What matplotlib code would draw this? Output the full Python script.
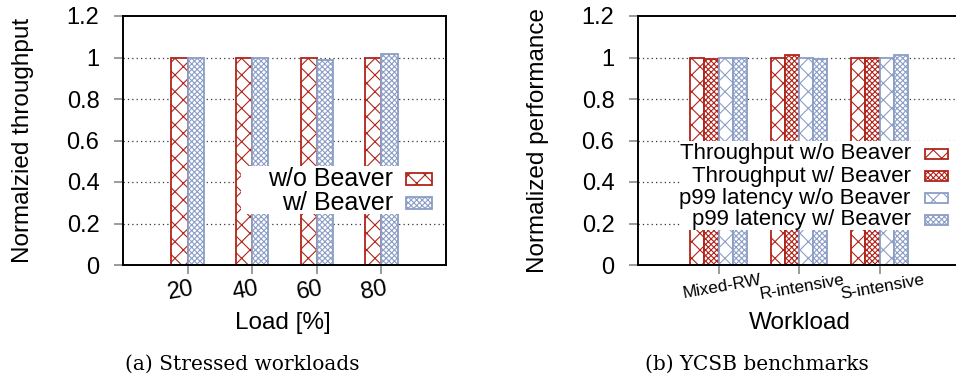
import matplotlib
matplotlib.use("Agg")
import matplotlib.pyplot as plt
import matplotlib.transforms as mtransforms
from matplotlib.patches import Rectangle
import numpy as np

# ---- data -------------------------------------------------------------
loads = ["20", "40", "60", "80"]
tput_wo = [1.0, 1.0, 1.0, 1.0]
tput_w = [1.0, 1.0, 0.986, 1.015]

workloads = ["Mixed-RW", "R-intensive", "S-intensive"]
ycsb_tput_wo = [1.0, 1.0, 1.0]
ycsb_tput_w = [0.991, 1.012, 0.998]
ycsb_p99_wo = [1.0, 1.0, 1.0]
ycsb_p99_w = [1.0, 0.995, 1.012]

yticks = [0, 0.2, 0.4, 0.6, 0.8, 1.0, 1.2]
ytick_labels = ["0", "0.2", "0.4", "0.6", "0.8", "1", "1.2"]

# ---- style ------------------------------------------------------------
RED = "#B0241A"
BLUE = "#8C9EC6"
SPARSE = "xx"
DENSE = "xxxxxx"
SANS = ["Liberation Sans", "DejaVu Sans"]
plt.rcParams["font.family"] = SANS
plt.rcParams["hatch.linewidth"] = 0.8
FS_TICK = 17
FS_LABEL = 17.5

W, H = 956, 381
fig = plt.figure(figsize=(W / 100, H / 100), dpi=100)


def px_axes(x0, x1, ytop, ybot):
    return fig.add_axes([x0 / W, (H - ybot) / H, (x1 - x0) / W, (ybot - ytop) / H])


def style_axes(ax):
    ax.set_ylim(0, 1.2)
    ax.set_yticks(yticks)
    ax.set_yticklabels(ytick_labels, fontsize=FS_TICK)
    for s in ax.spines.values():
        s.set_linewidth(1.4)
        s.set_zorder(10)
    ax.tick_params(axis="both", direction="out", length=6.5, width=1.1,
                   color="#808080", pad=10.5)
    ax.yaxis.grid(True, linestyle=(0, (1, 2.5)), color="#333333", linewidth=0.9)
    gl = ax.yaxis.get_gridlines()
    gl[0].set_visible(False)
    gl[-1].set_visible(False)
    ax.set_axisbelow(True)


def legend_box(ax, x0, x1, y0, y1, rows, text_right, sx0, sx1, sh, fs):
    ax.add_patch(Rectangle((x0, y0), x1 - x0, y1 - y0, transform=ax.transAxes,
                           facecolor="white", edgecolor="none", zorder=5,
                           clip_on=True))
    for label, yc, color, hatch in rows:
        ax.text(text_right, yc, label, transform=ax.transAxes, ha="right",
                va="center", fontsize=fs, zorder=6)
        ax.add_patch(Rectangle((sx0, yc - sh / 2), sx1 - sx0, sh,
                               transform=ax.transAxes, facecolor="white",
                               edgecolor=color, hatch=hatch, linewidth=1.3,
                               zorder=6, clip_on=False))


def offset_labels(labels, dx):
    for lab in labels:
        lab.set_transform(lab.get_transform() +
                          mtransforms.ScaledTranslation(dx / 100, 0, fig.dpi_scale_trans))


# ---- (a) stressed workloads --------------------------------------------
ax1 = px_axes(123, 446, 16, 265)
style_axes(ax1)
x = np.arange(1, len(loads) + 1)
bw = 0.25
ax1.bar(x - bw / 2, tput_wo, bw, facecolor="white", edgecolor=RED,
        hatch=SPARSE, linewidth=1.3, zorder=3)
ax1.bar(x + bw / 2, tput_w, bw, facecolor="white", edgecolor=BLUE,
        hatch=DENSE, linewidth=1.3, zorder=3)
ax1.set_xlim(0, 5)
ax1.set_xticks(x)
labs = ax1.set_xticklabels(loads, fontsize=FS_TICK, rotation=10, ha="center",
                           va="top", rotation_mode="anchor")
ax1.tick_params(axis="x", pad=4)
offset_labels(labs, -9)
ax1.set_ylabel("Normalzied throughput", fontsize=FS_LABEL, va="center")
ax1.yaxis.set_label_coords(-0.31, 0.5)
ax1.set_xlabel("Load [%]", fontsize=FS_LABEL, va="center")
ax1.xaxis.set_label_coords(0.495, -0.233)
legend_box(ax1, 0.365, 1.0, 0.205, 0.396,
           [("w/o Beaver", 0.345, RED, SPARSE), ("w/ Beaver", 0.250, BLUE, DENSE)],
           0.836, 0.876, 0.957, 0.05, 18)

# ---- (b) YCSB benchmarks ---------------------------------------------------
ax2 = px_axes(638, 960, 16, 265)
style_axes(ax2)
xw = np.arange(1, len(workloads) + 1)
bw2 = 0.175
series = [
    (ycsb_tput_wo, RED, SPARSE, "Throughput w/o Beaver"),
    (ycsb_tput_w, RED, DENSE, "Throughput w/ Beaver"),
    (ycsb_p99_wo, BLUE, SPARSE, "p99 latency w/o Beaver"),
    (ycsb_p99_w, BLUE, DENSE, "p99 latency w/ Beaver"),
]
for i, (vals, c, h, _) in enumerate(series):
    ax2.bar(xw + (i - 1.5) * bw2, vals, bw2, facecolor="white", edgecolor=c,
            hatch=h, linewidth=1.3, zorder=3)
ax2.set_xlim(0, 4)
ax2.set_xticks(xw)
labs2 = ax2.set_xticklabels(workloads, fontsize=12.3, rotation=10, ha="center",
                            va="top", rotation_mode="anchor")
ax2.tick_params(axis="x", pad=4)
offset_labels(labs2, 2)
ax2.set_ylabel("Normalized performance", fontsize=FS_LABEL, va="center")
ax2.yaxis.set_label_coords(-0.31, 0.5)
ax2.set_xlabel("Workload", fontsize=FS_LABEL, va="center")
ax2.xaxis.set_label_coords(0.503, -0.233)
row_y = [0.446, 0.357, 0.269, 0.181]
legend_box(ax2, 0.13, 1.0, 0.14, 0.496,
           [(s[3], yy, s[1], s[2]) for s, yy in zip(series, row_y)],
           0.847, 0.891, 0.964, 0.042, 16)

# ---- captions ------------------------------------------------------------
fig.text(242 / W, 1 - 364 / H, "(a) Stressed workloads", ha="center",
         va="center", fontsize=14.5, family=["DejaVu Serif"])
fig.text(757 / W, 1 - 364 / H, "(b) YCSB benchmarks", ha="center",
         va="center", fontsize=14.5, family=["DejaVu Serif"])

fig.savefig("out.png", dpi=100)
